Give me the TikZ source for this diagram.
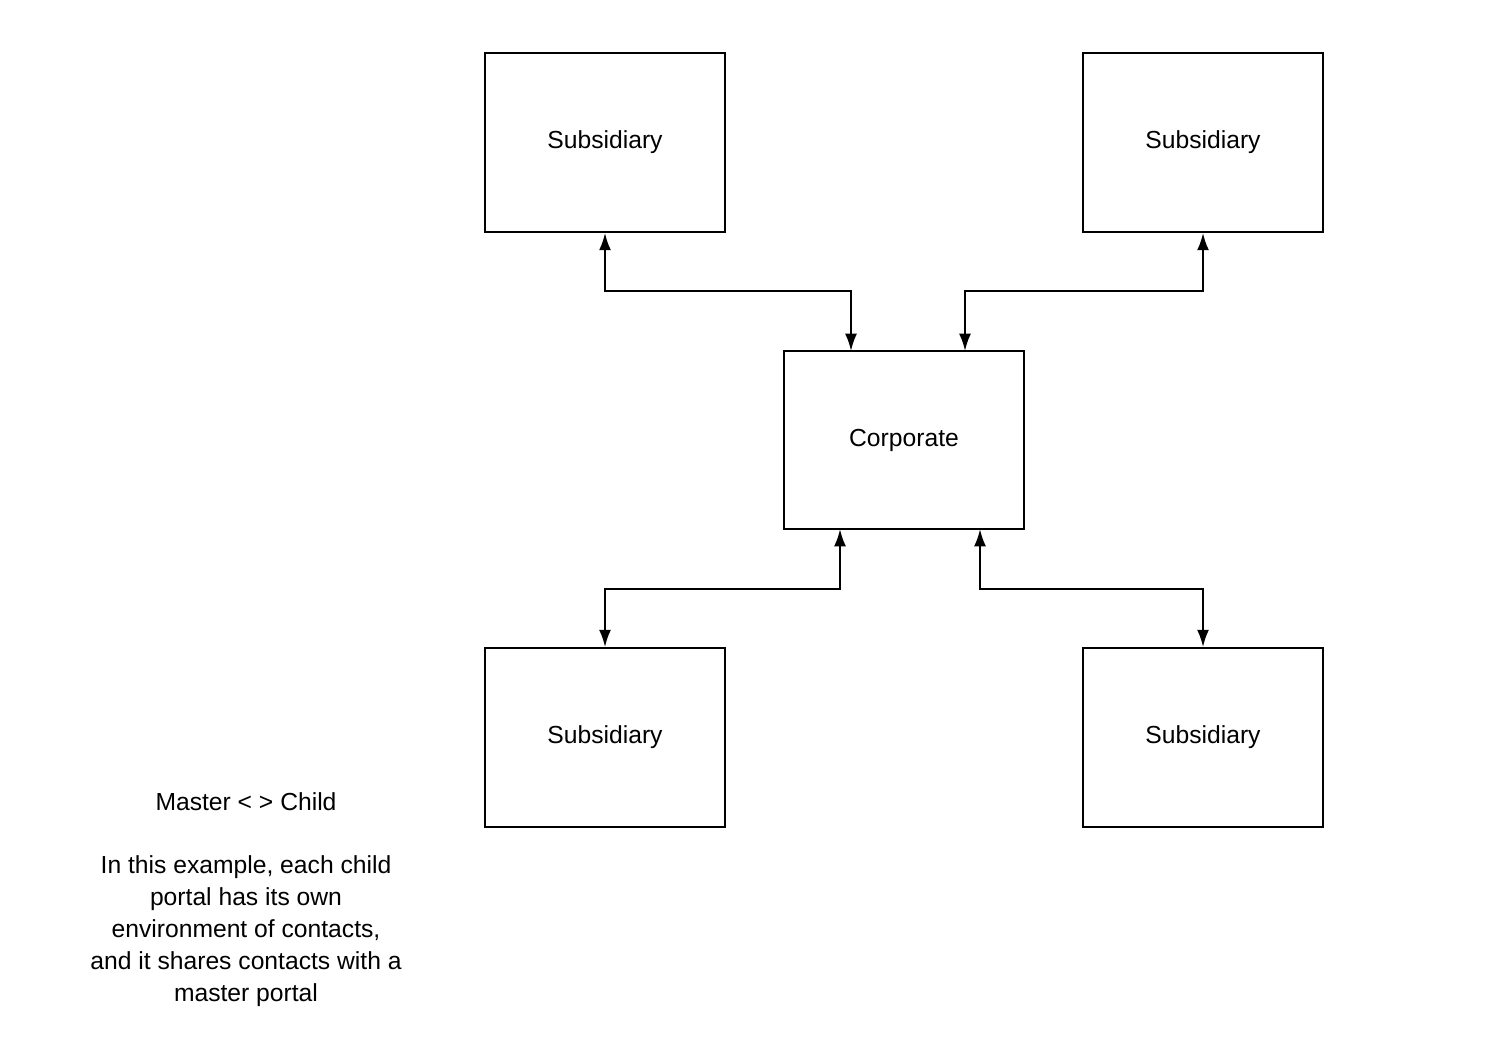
\documentclass[tikz,border=0pt]{standalone}
\usepackage{fontspec}
\setmainfont{Liberation Sans}
\usetikzlibrary{arrows.meta}
\tikzset{
  unit/.style={draw, line width=1.6pt, minimum width=180pt, minimum height=134pt, inner sep=0pt, font=\fontsize{18.5}{22}\selectfont},
  link/.style={line width=1.6pt, {Latex[length=13pt,width=9pt]}-{Latex[length=13pt,width=9pt]}}
}
\begin{document}
\begin{tikzpicture}[x=0.75pt,y=0.75pt,yscale=-1,xscale=1]
	\useasboundingbox (0,0) rectangle (1508,1046);
	\node [unit] (subtl) at (605,142.5) {Subsidiary};
	\node [unit] (subtr) at (1203,142.5) {Subsidiary};
	\node [unit] (corp) at (904,440) {Corporate};
	\node [unit] (subbl) at (605,737.5) {Subsidiary};
	\node [unit] (subbr) at (1203,737.5) {Subsidiary};
	% ports on the corporate box
	\coordinate (portnw) at (851,351);
	\coordinate (portne) at (965,351);
	\coordinate (portsw) at (840,529);
	\coordinate (portse) at (980,529);
	\draw [link] (subtl.south) |- (851,291) -- (portnw);
	\draw [link] (subtr.south) |- (965,291) -- (portne);
	\draw [link] (portsw) |- (605,589) -- (subbl.north);
	\draw [link] (portse) |- (1203,589) -- (subbr.north);
	\node [font=\fontsize{18.5}{24}\selectfont] (title) at (246,802) {Master < > Child};
	\node [font=\fontsize{18.5}{24}\selectfont, align=center, anchor=north] (note) at (246,851)
	  {In this example, each child\\portal has its own\\environment of contacts,\\and it shares contacts with a\\master portal};
\end{tikzpicture}
\end{document}
